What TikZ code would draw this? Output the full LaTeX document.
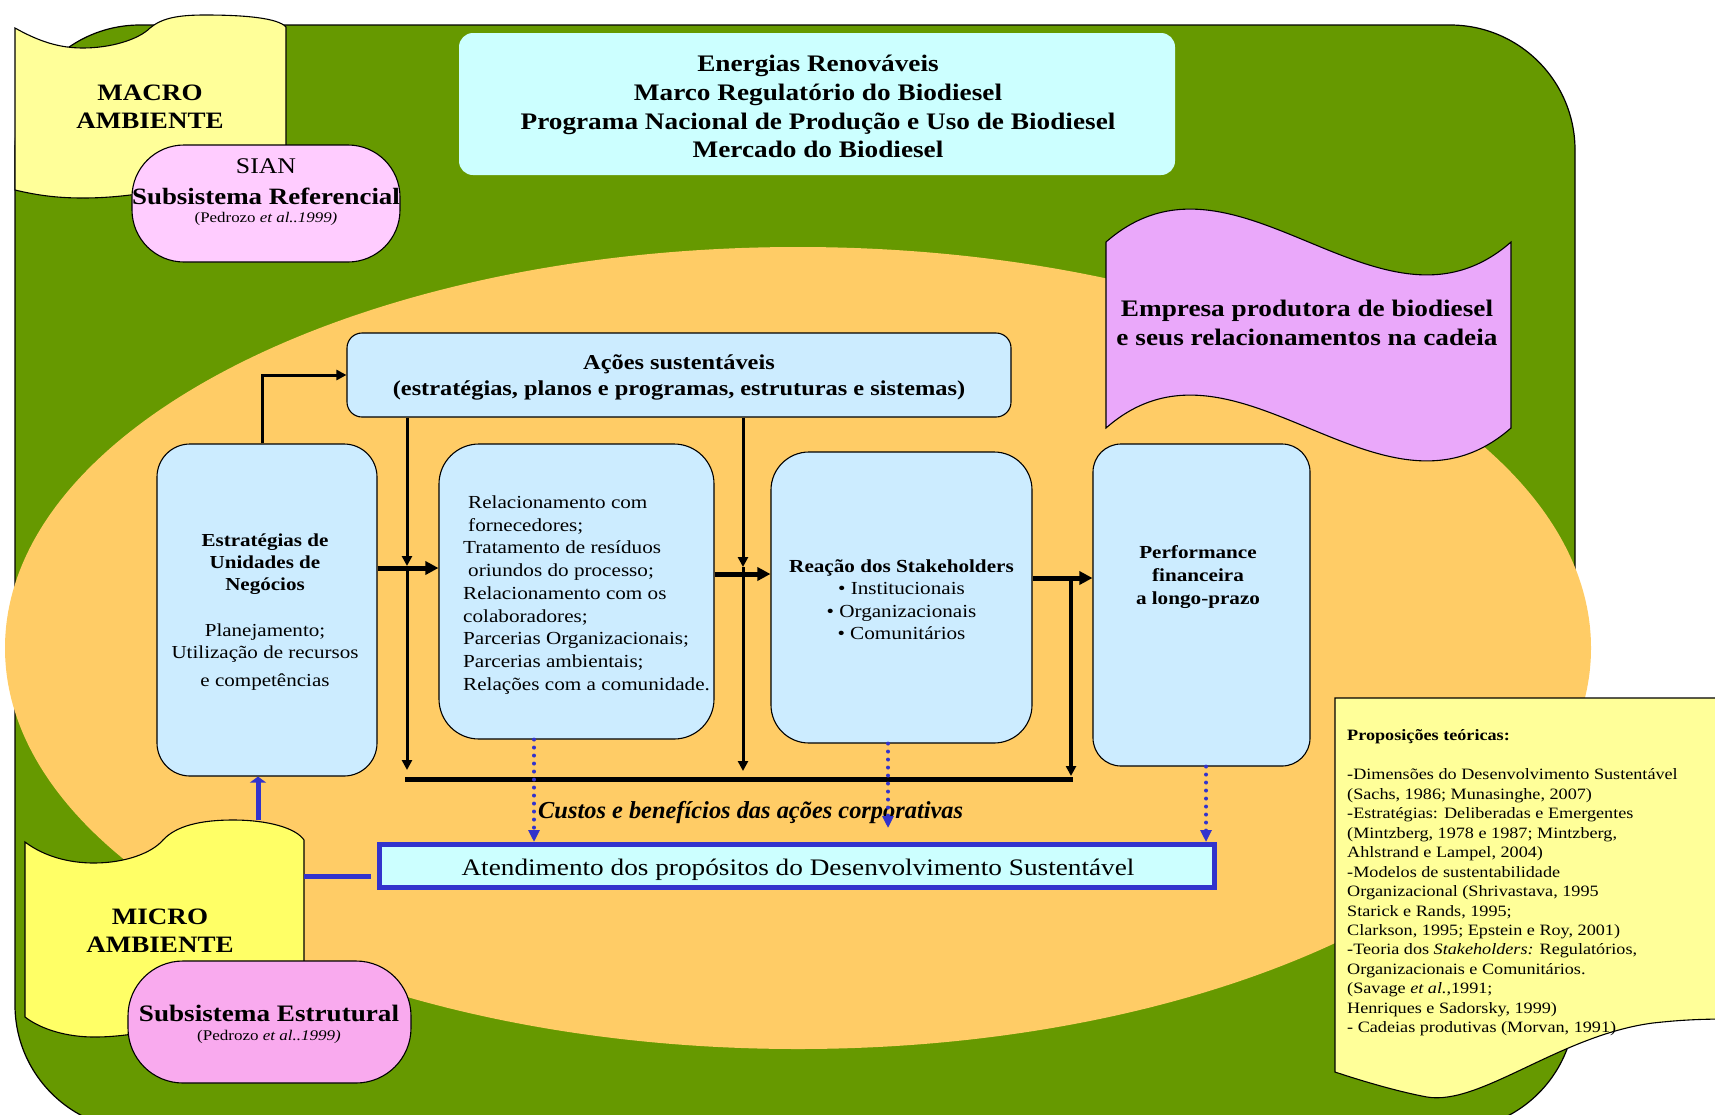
\documentclass[tikz,border=0pt]{standalone}
\usepackage{fontspec}
\setmainfont{Liberation Serif}[FakeStretch=1.15]
\newfontfamily\custosfont{Liberation Serif}
\usetikzlibrary{arrows.meta}
\definecolor{grn}{HTML}{669900}
\definecolor{orng}{HTML}{FFCC66}
\definecolor{lblue}{HTML}{CCECFF}
\definecolor{lcyan}{HTML}{CCFFFF}
\definecolor{pinkA}{HTML}{FFCCFF}
\definecolor{pinkB}{HTML}{F9AAEE}
\definecolor{pinkC}{HTML}{EAA8FA}
\definecolor{yelA}{HTML}{FFFF99}
\definecolor{yelB}{HTML}{FFFF66}
\definecolor{bl}{HTML}{3333CC}
\newcommand\myfs[2]{\fontsize{#1}{#2}\selectfont}
\begin{document}
\begin{tikzpicture}[x=1pt,y=-1pt,
  bbox/.style={draw=black, line width=1.1pt, fill=lblue, inner sep=0pt},
  txt/.style={inner sep=0pt, align=center, text=black},
  ltxt/.style={inner sep=0pt, align=left, text=black},
  outl/.style={draw=black, line width=1.1pt},
  thickarr/.style={line width=5pt, -{Triangle[length=13pt,width=13pt]}},
  thinarr/.style={line width=3pt, -{Triangle[length=10pt,width=10pt]}},
  bluedot/.style={draw=bl, line width=4pt, dash pattern=on 0pt off 8pt, line cap=round, -{Triangle[length=12pt,width=11pt]}},
  blueline/.style={draw=bl, line width=5pt}]
\useasboundingbox (0,0) rectangle (1715,1114);
\fill[white] (0,0) rectangle (1715,1114);
% green background
\draw[outl, fill=grn, line width=1.2pt, rounded corners=125pt] (15,25) rectangle (1575,1130);
% orange ellipse
\fill[orng] (798,648) ellipse [x radius=793pt, y radius=401pt];
% top box
\node[fill=lcyan, rounded corners=14pt, minimum width=716pt, minimum height=142pt, inner sep=0pt] (topbox) at (817,104) {};
\node[txt, font={\bfseries\myfs{23.7}{28.8}}] (toptxt) at (818,106.5) {Energias Renováveis\\Marco Regulatório do Biodiesel\\Programa Nacional de Produção e Uso de Biodiesel\\Mercado do Biodiesel};
% macro ambiente scroll
\draw[outl, fill=yelA] (15,28) .. controls (40,42) and (60,48) .. (83,48) .. controls (110,48) and (138,40) .. (150,28) .. controls (162,18) and (178,15) .. (205,15) .. controls (245,15) and (278,18) .. (286,27) -- (286,182) -- (145,193) .. controls (125,196) and (105,198) .. (83,198) .. controls (60,198) and (40,196) .. (15,190) -- cycle;
\node[txt, font={\bfseries\myfs{23.5}{28}}] (macroT) at (150,106.5) {MACRO\\AMBIENTE};
% SIAN
\node[outl, fill=pinkA, rounded corners=52pt, minimum width=268pt, minimum height=117pt, inner sep=0pt] (sian) at (266,203.5) {};
\node[txt, font=\myfs{22.4}{26}] (sianA) at (266,166) {SIAN};
\node[txt, font={\bfseries\myfs{23.4}{27}}] (sianB) at (266,196) {Subsistema Referencial};
\node[txt, font=\myfs{14.7}{17}] (sianC) at (266,219) {(Pedrozo \textit{et al..1999)}};
% Empresa flag
\draw[outl, fill=pinkC] (1106,242) .. controls (1236,128) and (1381,356) .. (1511,242) -- (1511,428) .. controls (1381,542) and (1236,314) .. (1106,428) -- cycle;
\node[txt, font={\bfseries\myfs{23.7}{29}}] (empT) at (1307,323) {Empresa produtora de biodiesel\\e seus relacionamentos na cadeia};
% boxes
\node[bbox, rounded corners=15pt, minimum width=664pt, minimum height=84pt] (acoes) at (679,375) {};
\node[txt, font={\bfseries\myfs{21.2}{26}}] (acoesT) at (679,377) {Ações sustentáveis\\(estratégias, planos e programas, estruturas e sistemas)};
\node[bbox, rounded corners=33pt, minimum width=220pt, minimum height=332pt] (estr) at (267,610) {};
\node[txt, font={\bfseries\myfs{18.3}{22}}] (estrA) at (265,564.5) {Estratégias de\\Unidades de\\Negócios};
\node[txt, font=\myfs{18.3}{21.5}] (estrB) at (265,657.5) {Planejamento;\\Utilização de recursos\\[7pt]e competências};
\node[bbox, rounded corners=40pt, minimum width=275pt, minimum height=295pt] (relac) at (576.5,591.5) {};
\node[ltxt, anchor=west, font=\myfs{18.4}{22.75}] (relacT) at (463,595) {\hspace*{5pt}Relacionamento com\\\hspace*{5pt}fornecedores;\\Tratamento de resíduos\\\hspace*{5pt}oriundos do processo;\\Relacionamento com os\\colaboradores;\\Parcerias Organizacionais;\\Parcerias ambientais;\\Relações com a comunidade.};
\node[bbox, rounded corners=38pt, minimum width=261pt, minimum height=291pt] (reac) at (901.5,597.5) {};
\node[txt, font=\myfs{18.4}{22.5}] (reacT) at (901.5,599.5) {\textbf{Reação dos Stakeholders}\\• Institucionais\\• Organizacionais\\• Comunitários};
\node[bbox, rounded corners=28pt, minimum width=217pt, minimum height=322pt] (perf) at (1201.5,605) {};
\node[txt, font={\bfseries\myfs{18.4}{23}}] (perfT) at (1198,577.5) {Performance\\financeira\\a longo-prazo};
% black connectors
\coordinate (e1) at (262,375);
\draw[thinarr] (estr.north -| e1) -- (e1) -- (e1 -| acoes.west);
\coordinate (h1) at (0,568);
\draw[thickarr] (estr.east |- h1) -- (relac.west |- h1);
\coordinate (v1m) at (407,566);
\coordinate (v1b) at (407,770);
\draw[thinarr] (acoes.south -| v1m) -- (v1m);
\draw[thinarr] (v1m) -- (v1b);
\coordinate (v2m) at (743,567);
\coordinate (v2b) at (743,771);
\draw[thinarr] (acoes.south -| v2m) -- (v2m);
\draw[thinarr] (v2m) -- (v2b);
\coordinate (h2) at (0,574);
\draw[thickarr] (relac.east |- h2) -- (reac.west |- h2);
\coordinate (h3) at (0,578);
\draw[thickarr] (reac.east |- h3) -- (perf.west |- h3);
\coordinate (v3t) at (1071,578);
\coordinate (v3b) at (1071,776);
\draw[line width=4pt, -{Triangle[length=10pt,width=10pt]}] (v3t) -- (v3b);
\coordinate (bl1) at (405,779);
\coordinate (bl2) at (1073,779);
\draw[line width=5pt] (bl1) -- (bl2);
% micro ambiente
\draw[outl, fill=yelB] (25,842) .. controls (45,857) and (70,863) .. (94,863) .. controls (125,863) and (152,853) .. (163,840) .. controls (176,826) and (200,820) .. (233,820) .. controls (268,820) and (296,828) .. (304,840) -- (304,1000) -- (140,1033) .. controls (120,1036) and (108,1037) .. (94,1037) .. controls (68,1037) and (42,1030) .. (25,1017) -- cycle;
\node[txt, font={\bfseries\myfs{23.5}{28}}] (microT) at (160,930.5) {MICRO\\AMBIENTE};
\node[outl, fill=pinkB, rounded corners=55pt, minimum width=283pt, minimum height=122pt, inner sep=0pt] (estrut) at (269.5,1022) {};
\node[txt, font={\bfseries\myfs{23.6}{27}}] (estrutA) at (269,1013.5) {Subsistema Estrutural};
\node[txt, font=\myfs{14.8}{17}] (estrutB) at (269,1037) {(Pedrozo \textit{et al..1999)}};
% atendimento
\node[draw=bl, line width=5pt, fill=lcyan, minimum width=834.5pt, minimum height=43pt, inner sep=0pt] (atend) at (796.75,866) {};
\node[txt, font=\myfs{23.7}{28}] (atendT) at (798,869.5) {Atendimento dos propósitos do Desenvolvimento Sustentável};
\node[anchor=west, inner sep=0pt, font={\custosfont\bfseries\itshape\myfs{24.4}{28}}] (custos) at (538,812) {Custos e benefícios das ações corporativas};
% blue connectors
\coordinate (mT) at (258,820);
\draw[blueline, -{Triangle[length=6pt,width=16pt]}] (mT) -- (estr.south -| mT);
\coordinate (mR) at (304,876);
\coordinate (mRe) at (371,876);
\draw[blueline] (mR) -- (mRe);
\coordinate (d1) at (534,0);
\draw[bluedot] (relac.south -| d1) -- (atend.north -| d1);
\coordinate (d2) at (888,0);
\coordinate (d2e) at (888,828);
\draw[bluedot] (reac.south -| d2) -- (d2e);
\coordinate (d3) at (1206,0);
\draw[bluedot] (perf.south -| d3) -- (atend.north -| d3);
% proposicoes
\draw[outl, fill=yelA] (1730,698) -- (1335,698) -- (1335,1072) .. controls (1365,1082) and (1400,1092) .. (1427,1097) .. controls (1480,1106) and (1560,1035) .. (1653,1023) .. controls (1680,1020) and (1700,1019) .. (1730,1019) -- cycle;
\node[ltxt, anchor=west, font=\myfs{15.8}{19.45}] (propT) at (1347,883) {\textbf{Proposições teóricas:}\\[19.45pt]-Dimensões do Desenvolvimento Sustentável\\(Sachs, 1986; Munasinghe, 2007)\\-Estratégias: Deliberadas e Emergentes\\(Mintzberg, 1978 e 1987; Mintzberg,\\Ahlstrand e Lampel, 2004)\\-Modelos de sustentabilidade\\Organizacional (Shrivastava, 1995\\Starick e Rands, 1995;\\Clarkson, 1995; Epstein e Roy, 2001)\\-Teoria dos \textit{Stakeholders:} Regulatórios,\\Organizacionais e Comunitários.\\(Savage \textit{et al.},1991;\\Henriques e Sadorsky, 1999)\\- Cadeias produtivas (Morvan, 1991)};
\end{tikzpicture}
\end{document}
